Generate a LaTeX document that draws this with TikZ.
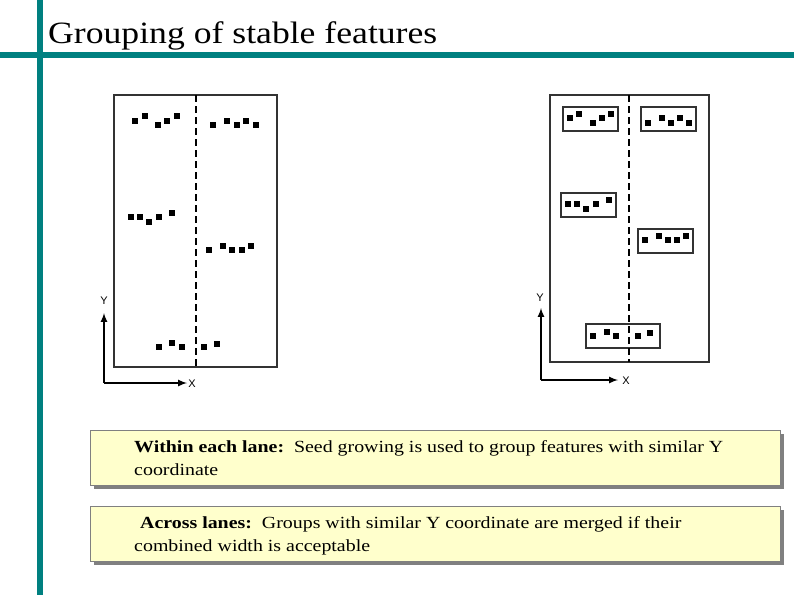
\documentclass[tikz,border=0pt]{standalone}
\usepackage{fontspec}
\setmainfont{Liberation Serif}
\setsansfont{Liberation Sans}
\usetikzlibrary{positioning}
\definecolor{barteal}{RGB}{0,128,128}
\definecolor{noteyellow}{RGB}{255,255,204}
\tikzset{
  panel/.style={draw=black!80,line width=2.2pt},
  lane/.style={black,line width=2.2pt,dash pattern=on 7pt off 4pt},
  feat/.style={fill=black,minimum size=6pt,inner sep=0pt},
  group/.style={draw=black!80,line width=2.4pt,fill=white},
  axis/.style={-latex,line width=2pt},
  axlab/.style={font=\sffamily\fontsize{11}{11}\selectfont},
  note/.style={draw=gray,fill=noteyellow,line width=0.8pt},
  notetext/.style={anchor=base west,inner sep=0pt,xscale=1.17,transform shape,font=\fontsize{17}{17}\selectfont}
}
\newcommand{\featrow}[3]{% x, y, list of dx/dy
  \foreach \dx/\dy in {#3} {\node [feat] at (#1+\dx,#2+\dy) {};}}
\begin{document}
\begin{tikzpicture}[x=1pt,y=-1pt]
	\useasboundingbox (0,0) rectangle (794,595);
	
	% title bars
	\fill [barteal] (37,0) rectangle (43,595);
	\fill [barteal] (0,52) rectangle (794,58);
	\node [anchor=base west,inner sep=0pt,xscale=1.15,transform shape,font=\fontsize{31}{31}\selectfont] (title) at (48,43) {Grouping of stable features};
	
	% left panel
	\draw [panel] (114,95) rectangle (277,367);
	\draw [lane] (196,95) -- (196,367);
	\featrow{135}{121}{0/0,10/-5,23/4,32/0,42/-5}
	\featrow{213}{125}{0/0,14/-4,24/0,33/-4,43/0}
	\featrow{131}{217}{0/0,9/0,18/5,28/0,41/-4}
	\featrow{209}{250}{0/0,14/-4,23/0,33/0,42/-4}
	\featrow{159}{347}{0/0,13/-4,23/0,45/0,58/-3}
	
	\coordinate (lo) at (104,383);
	\coordinate (ly) at (104,313);
	\coordinate (lx) at (187,383);
	\draw [axis] (lo) -- (ly);
	\draw [axis] (lo) -- (lx);
	\node [axlab] (lylab) at (104,301) {Y};
	\node [axlab] (lxlab) at (192,384) {X};
	
	% right panel
	\draw [panel] (550,95) rectangle (709,362);
	\draw [group] (563,107) rectangle (618,131);
	\draw [group] (641,107) rectangle (696,131);
	\draw [group] (561,193) rectangle (616,217);
	\draw [group] (638,229) rectangle (693,253);
	\draw [group] (586,324) rectangle (660,348);
	\draw [lane] (629,95) -- (629,362);
	\featrow{570}{118}{0/0,9/-4,23/5,32/0,41/-4}
	\featrow{648}{123}{0/0,14/-5,23/0,32/-5,41/0}
	\featrow{568}{204}{0/0,9/0,18/5,28/0,41/-4}
	\featrow{645}{240}{0/0,14/-4,23/0,32/0,41/-4}
	\featrow{593}{336}{0/0,14/-4,23/0,45/0,57/-3}
	
	\coordinate (ro) at (541,380);
	\coordinate (ry) at (541,308);
	\coordinate (rx) at (618,380);
	\draw [axis] (ro) -- (ry);
	\draw [axis] (ro) -- (rx);
	\node [axlab] (rylab) at (540,298) {Y};
	\node [axlab] (rxlab) at (626,381) {X};
	
	% notes
	\fill [gray] (94,434) rectangle (784,489);
	\draw [note] (90,430) rectangle (780,485);
	\node [notetext] (within) at (134,452) {\textbf{Within each lane:}\ \ Seed growing is used to group features with similar Y};
	\node [notetext] (within2) at (134,475) {coordinate};
	
	\fill [gray] (94,510) rectangle (784,565);
	\draw [note] (90,506) rectangle (780,561);
	\node [notetext] (across) at (140,528) {\textbf{Across lanes:}\ \ Groups with similar Y coordinate are merged if their};
	\node [notetext] (across2) at (134,551) {combined width is acceptable};
	
\end{tikzpicture}
\end{document}
